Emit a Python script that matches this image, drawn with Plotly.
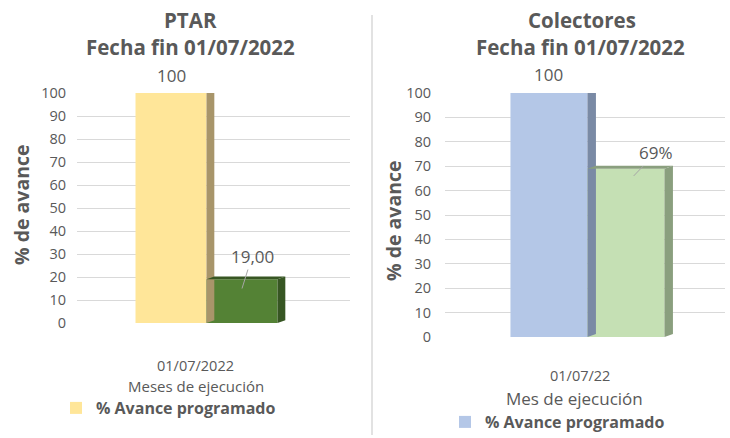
import plotly.graph_objects as go

# ---------------- data ----------------
ptar_series = ["% Avance programado", "% Avance ejecutado"]
ptar_values = [100, 19]
ptar_labels = ["100", "19,00"]
ptar_category = "01/07/2022"
ptar_xtitle = "Meses de ejecución"

col_series = ["% Avance programado", "% Avance ejecutado"]
col_values = [100, 69]
col_labels = ["100", "69%"]
col_category = "01/07/22"
col_xtitle = "Mes de ejecución"

y_ticks = list(range(0, 101, 10))

ptar_colors = ["#FFE699", "#548235"]
ptar_side = ["#A8956A", "#375623"]
col_colors = ["#B4C7E7", "#C5E0B4"]
col_side = ["#7A8AA5", "#8A9F7E"]

FONT = "Open Sans"
GREY = "#595959"

fig = go.Figure()

W = 1.0      # bar width in x units
D = 0.11     # depth offset x
DY = 1.2     # depth offset y


def add_panel(values, names, colors, sides, xa, ya, legend):
    for i, (v, n, c, s) in enumerate(zip(values, names, colors, sides)):
        fig.add_trace(go.Bar(
            x=[i], y=[v], width=W, name=n, marker=dict(color=c, line=dict(width=0)),
            xaxis=xa, yaxis=ya, showlegend=(i == 0), legend=legend,
            hoverinfo="skip"))
        xr = i + W / 2
        fig.add_trace(go.Scatter(
            x=[xr, xr + D, xr + D, xr, xr], y=[0, DY, v + DY, v, 0],
            fill="toself", fillcolor=s, mode="lines", line=dict(width=0, color=s),
            xaxis=xa, yaxis=ya, showlegend=False, hoverinfo="skip"))
        xl = i - W / 2
        fig.add_trace(go.Scatter(
            x=[xl, xl + D, xr + D, xr, xl], y=[v, v + DY, v + DY, v, v],
            fill="toself", fillcolor=s, mode="lines", line=dict(width=0, color=s),
            xaxis=xa, yaxis=ya, showlegend=False, hoverinfo="skip"))


add_panel(ptar_values, ptar_series, ptar_colors, ptar_side, "x", "y", "legend")
add_panel(col_values, col_series, col_colors, col_side, "x2", "y2", "legend2")

axis_common = dict(showgrid=False, zeroline=False, showline=False, showticklabels=False,
                   fixedrange=True, automargin=False)
yaxis_common = dict(range=[0, 100], tickvals=y_ticks, showgrid=True, gridcolor="#D9D9D9",
                    gridwidth=1, zeroline=False, showline=False, ticks="", automargin=False,
                    fixedrange=True, tickfont=dict(family=FONT, size=14.5, color=GREY))

legend_font = dict(family=FONT, size=16, color=GREY, weight="bold")

fig.update_layout(
    width=730, height=438,
    margin=dict(l=0, r=0, t=0, b=0, autoexpand=False),
    paper_bgcolor="white", plot_bgcolor="white",
    barmode="overlay",
    font=dict(family=FONT, color=GREY),
    xaxis=dict(domain=[77 / 730, 350 / 730], range=[-1.324, 2.521], **axis_common),
    yaxis=dict(domain=[1 - 323 / 438, 1 - 93 / 438], anchor="x", ticklabelstandoff=10,
               **yaxis_common),
    xaxis2=dict(domain=[445 / 730, 725 / 730], range=[-1.35, 2.286], **axis_common),
    yaxis2=dict(domain=[1 - 337 / 438, 1 - 93 / 438], anchor="x2", ticklabelstandoff=13,
                **yaxis_common),
    legend=dict(x=56 / 730, y=1 - 408 / 438, xanchor="left", yanchor="middle", orientation="h",
                font=legend_font, bgcolor="rgba(0,0,0,0)", itemwidth=30),
    legend2=dict(x=445 / 730, y=1 - 422 / 438, xanchor="left", yanchor="middle", orientation="h",
                 font=legend_font, bgcolor="rgba(0,0,0,0)", itemwidth=30),
    showlegend=True,
)


def pa(text, x, y, size, **kw):
    d = dict(text=text, x=x / 730, y=1 - y / 438, xref="paper", yref="paper",
             xanchor="center", yanchor="middle", showarrow=False,
             font=dict(family=FONT, size=size, color=GREY))
    d.update(kw)
    return d


ann = []
for txt, x, y in [("PTAR", 191, 20), ("Fecha fin 01/07/2022", 190, 47),
                  ("Colectores", 582, 20), ("Fecha fin 01/07/2022", 580, 47)]:
    ann.append(pa("<b>%s</b>" % txt, x, y, 20.5))
for x, y in [(22, 205), (393, 220)]:
    ann.append(pa("<b>% de avance</b>", x, y, 19.5, textangle=-90))
ann.append(pa(ptar_category, 195, 365, 14.5))
ann.append(pa(ptar_xtitle, 196, 386, 15))
ann.append(pa(col_category, 580, 375, 14.5))
ann.append(pa(col_xtitle, 574, 398, 17))

lbl_font = dict(family=FONT, size=17, color=GREY)
ann.append(dict(text=ptar_labels[0], x=0, y=ptar_values[0], xref="x", yref="y", yshift=17,
                xanchor="center", yanchor="middle", showarrow=False, font=lbl_font))
ann.append(dict(text=ptar_labels[1], x=1, y=ptar_values[1] - 4, xref="x", yref="y",
                ax=10, ay=-32, showarrow=True, arrowhead=0, arrowcolor="#A6A6A6", arrowwidth=1,
                xanchor="center", yanchor="middle", font=lbl_font))
ann.append(dict(text=col_labels[0], x=0, y=col_values[0], xref="x2", yref="y2", yshift=18,
                xanchor="center", yanchor="middle", showarrow=False, font=lbl_font))
ann.append(dict(text=col_labels[1], x=1.1, y=col_values[1] - 3, xref="x2", yref="y2",
                ax=22, ay=-23, showarrow=True, arrowhead=0, arrowcolor="#A6A6A6", arrowwidth=1,
                xanchor="center", yanchor="middle", font=lbl_font))
fig.update_layout(annotations=ann)

fig.add_shape(type="line", xref="paper", yref="paper", x0=372 / 730, x1=372 / 730,
              y0=1 - 435 / 438, y1=1 - 15 / 438, line=dict(color="#D9D9D9", width=1.5))

fig.write_html("out.html", config={"displayModeBar": False},
               post_script="document.body.style.margin='0';")
